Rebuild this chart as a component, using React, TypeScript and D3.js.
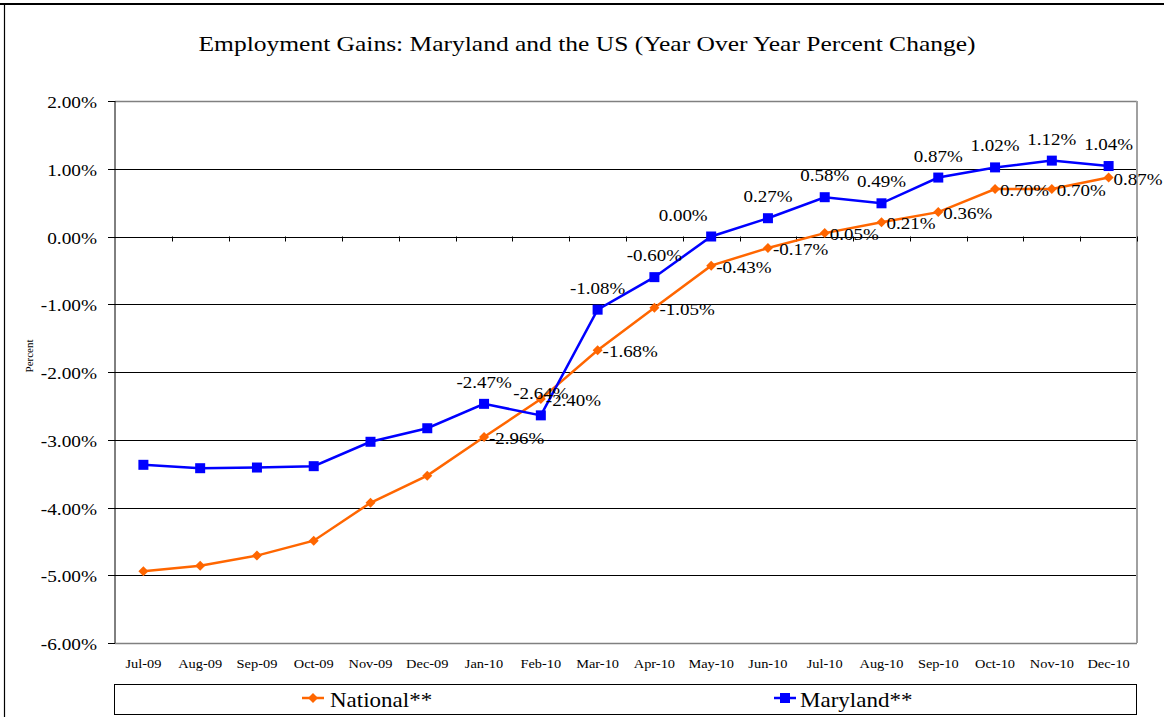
import React from "react";
import * as d3 from "d3";

const categories = [
  "Jul-09", "Aug-09", "Sep-09", "Oct-09", "Nov-09", "Dec-09",
  "Jan-10", "Feb-10", "Mar-10", "Apr-10", "May-10", "Jun-10",
  "Jul-10", "Aug-10", "Sep-10", "Oct-10", "Nov-10", "Dec-10",
];
const national = [
  -4.94, -4.86, -4.71, -4.49, -3.93, -3.53,
  -2.96, -2.40, -1.68, -1.05, -0.43, -0.17,
  0.05, 0.21, 0.36, 0.70, 0.70, 0.87,
];
const maryland = [
  -3.37, -3.42, -3.41, -3.39, -3.03, -2.83,
  -2.47, -2.64, -1.08, -0.60, 0.00, 0.27,
  0.58, 0.49, 0.87, 1.02, 1.12, 1.04,
];
const yTicks = [2, 1, 0, -1, -2, -3, -4, -5, -6];
const labelFrom = 6; // data labels shown from Jan-10 on
const title = "Employment Gains: Maryland and the US (Year Over Year Percent Change)";
const seriesNames = ["National**", "Maryland**"];

const FONT = "'Liberation Serif','Times New Roman',serif";
const ORANGE = "#FF6600";
const BLUE = "#0000FF";

function T(props: {
  x: number; y: number; size: number; anchor?: string; sx?: number;
  children: React.ReactNode; rotate?: number;
}) {
  const { x, y, size, anchor = "start", sx = 1.2, children, rotate } = props;
  const tr = rotate
    ? `translate(${x},${y}) rotate(${rotate}) scale(${sx},1)`
    : `translate(${x},${y}) scale(${sx},1)`;
  return (
    <text transform={tr} textAnchor={anchor as any} fontSize={size} fontFamily={FONT} fill="#000">
      {children}
    </text>
  );
}

const fmt = (v: number) => v.toFixed(2) + "%";

export default function App() {
  const left = 115, right = 1137, top = 101, bottom = 643;
  const x = d3.scalePoint<string>().domain(categories).range([left, right]).padding(0.5);
  const y = d3.scaleLinear().domain([-6, 2]).range([bottom, top]);
  const step = x.step();

  const line = d3.line<number>()
    .x((_, i) => x(categories[i])!)
    .y((d) => y(d));

  const diamond = (cx: number, cy: number, r = 5) =>
    `M${cx},${cy - r}L${cx + r},${cy}L${cx},${cy + r}L${cx - r},${cy}Z`;

  const mdDx: Record<string, number> = { "May-10": -28 };

  return (
    <svg width={1164} height={717} style={{ position: "absolute", left: 0, top: 0, background: "#fff" }}>
      <rect x={0} y={0} width={1164} height={717} fill="#fff" />
      {/* outer frame */}
      <line x1={0} x2={1164} y1={4} y2={4} stroke="#000" strokeWidth={2} />
      <line x1={4.5} x2={4.5} y1={4} y2={717} stroke="#000" strokeWidth={1.2} />

      {/* title */}
      <text x={587} y={51} textAnchor="middle" fontSize={21.5} fontFamily={FONT}
        textLength={777} lengthAdjust="spacingAndGlyphs">{title}</text>

      {/* gridlines */}
      {yTicks.map((t) => {
        const yy = Math.round(y(t)) + 0.5;
        const edge = t === 2 || t === -6;
        return (
          <g key={t}>
            <line x1={left} x2={right} y1={yy} y2={yy} stroke={edge ? "#808080" : "#000"} strokeWidth={edge ? 1.5 : 1} />
            <line x1={108} x2={left} y1={yy} y2={yy} stroke="#000" strokeWidth={1} />
            <T x={97} y={yy + 6} size={16.5} anchor="end" sx={1.17}>{fmt(t)}</T>
          </g>
        );
      })}
      {/* right border */}
      <line x1={right} x2={right} y1={top} y2={bottom} stroke="#a0a0a0" strokeWidth={2} />
      {/* y axis */}
      <line x1={left} x2={left} y1={top} y2={bottom} stroke="#000" strokeWidth={1} />
      {/* x-axis ticks on zero line */}
      {categories.map((c, i) => {
        const xx = Math.round(left + step * (i + 1)) + 0.5;
        return <line key={c} x1={xx} x2={xx} y1={y(0)} y2={y(0) + 5} stroke="#000" strokeWidth={1} />;
      })}

      {/* y axis title */}
      <T x={33} y={356} size={11} anchor="middle" rotate={-90} sx={1.0}>Percent</T>

      {/* category labels */}
      {categories.map((c) => (
        <T key={c} x={x(c)!} y={668} size={12} anchor="middle" sx={1.2}>{c}</T>
      ))}

      {/* series */}
      <path d={line(national)!} fill="none" stroke={ORANGE} strokeWidth={2.5} />
      <path d={line(maryland)!} fill="none" stroke={BLUE} strokeWidth={2.5} />
      {national.map((v, i) => (
        <path key={"n" + i} d={diamond(x(categories[i])!, y(v))} fill={ORANGE} />
      ))}
      {maryland.map((v, i) => (
        <rect key={"m" + i} x={x(categories[i])! - 5} y={y(v) - 5} width={10} height={10} fill={BLUE} />
      ))}

      {/* data labels */}
      {national.map((v, i) =>
        i >= labelFrom ? (
          <T key={"nl" + i} x={x(categories[i])! + 5} y={y(v) + 7} size={16.5} sx={1.15}>{fmt(v)}</T>
        ) : null
      )}
      {maryland.map((v, i) =>
        i >= labelFrom ? (
          <T key={"ml" + i} x={x(categories[i])! + (mdDx[categories[i]] || 0)} y={y(v) - 16} size={16.5} anchor="middle" sx={1.15}>{fmt(v)}</T>
        ) : null
      )}

      {/* legend */}
      <rect x={114.5} y={684.5} width={1022} height={30} fill="#fff" stroke="#000" strokeWidth={1} />
      <line x1={302} x2={324} y1={698} y2={698} stroke={ORANGE} strokeWidth={2.5} />
      <path d={diamond(313, 698)} fill={ORANGE} />
      <T x={330} y={707} size={20} sx={1.15}>{seriesNames[0]}</T>
      <line x1={774} x2={796} y1={698} y2={698} stroke={BLUE} strokeWidth={2.5} />
      <rect x={780} y={693} width={10} height={10} fill={BLUE} />
      <T x={800} y={707} size={20} sx={1.15}>{seriesNames[1]}</T>
    </svg>
  );
}
